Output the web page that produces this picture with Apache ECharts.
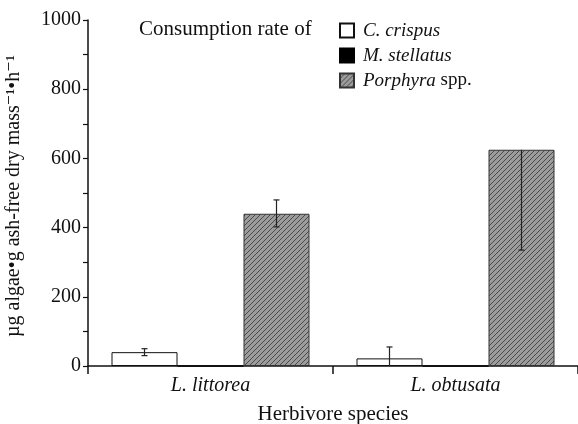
<!DOCTYPE html>
<html>
<head>
<meta charset="utf-8">
<script src="https://cdn.jsdelivr.net/npm/echarts@6/dist/echarts.min.js"></script>
<style>
  html, body { margin: 0; padding: 0; background: #fff; }
  #chart { width: 578px; height: 424px; }
</style>
</head>
<body>
<div id="chart"></div>
<script>
// data
const herbivores = ['L. littorea', 'L. obtusata'];
const crispusRate = [40, 22];
const crispusErrUp = [10, 33];
const crispusErrDown = [10, 33];
const stellatusRate = [0, 0];
const porphyraRate = [440, 625];
const porphyraErrUp = [40, 0];
const porphyraErrDown = [38, 290];
const yTicks = [0, 200, 400, 600, 800, 1000];

const FONT = '"Liberation Serif", "DejaVu Serif", serif';
const BAR_W = 66;

// hatched grey fill for Porphyra
const hatch = (() => {
  const c = document.createElement('canvas');
  c.width = 5; c.height = 5;
  const g = c.getContext('2d');
  g.fillStyle = '#9c9c9c';
  g.fillRect(0, 0, 5, 5);
  g.strokeStyle = '#4a4a4a';
  g.lineWidth = 1;
  g.beginPath();
  g.moveTo(0, 5); g.lineTo(5, 0);
  g.moveTo(-2.5, 2.5); g.lineTo(2.5, -2.5);
  g.moveTo(2.5, 7.5); g.lineTo(7.5, 2.5);
  g.stroke();
  return { image: c, repeat: 'repeat' };
})();

// error bar rows: [category, value, low, high, slot]
const errRows = [];
herbivores.forEach((h, i) => {
  errRows.push([i, crispusRate[i], Math.max(0, crispusRate[i] - crispusErrDown[i]), crispusRate[i] + crispusErrUp[i], -1]);
  errRows.push([i, porphyraRate[i], porphyraRate[i] - porphyraErrDown[i], porphyraRate[i] + porphyraErrUp[i], 1]);
});

const chart = echarts.init(document.getElementById('chart'), null, { renderer: 'canvas' });

chart.setOption({
  animation: false,
  backgroundColor: '#fff',
  grid: { left: 88, right: 0, top: 20, bottom: 58, outerBoundsMode: 'none' },
  legend: {
    orient: 'vertical',
    left: 339,
    top: 21,
    padding: 0,
    itemWidth: 14,
    itemHeight: 14,
    itemGap: 6,
    icon: 'rect',
    textStyle: {
      fontFamily: FONT, fontSize: 19, color: '#111', padding: [0, 0, 0, 4],
      rich: {
        it: { fontFamily: FONT, fontSize: 19, fontStyle: 'italic', color: '#111' },
        rm: { fontFamily: FONT, fontSize: 19, color: '#111' }
      }
    },
    formatter: (name) => name === 'Porphyra spp.' ? '{it|Porphyra} {rm|spp.}' : '{it|' + name + '}',
    data: ['C. crispus', 'M. stellatus', 'Porphyra spp.']
  },
  graphic: [
    {
      type: 'text', left: 139, top: 19,
      style: { text: 'Consumption rate of', font: '21px ' + FONT, fill: '#111' }
    },
    {
      type: 'text', x: 4, y: 337, rotation: Math.PI / 2,
      style: { text: 'µg algae•g ash-free dry mass⁻¹•h⁻¹', font: '20px ' + FONT, fill: '#111', textAlign: 'left', textVerticalAlign: 'top' }
    }
  ],
  xAxis: {
    type: 'category',
    data: herbivores,
    axisLine: { lineStyle: { color: '#111', width: 1.5 } },
    axisTick: { show: true, length: 8, lineStyle: { color: '#111', width: 1.5 } },
    axisLabel: { fontFamily: FONT, fontSize: 20, fontStyle: 'italic', color: '#111', margin: 10 },
    name: 'Herbivore species',
    nameLocation: 'middle',
    nameGap: 38,
    nameTextStyle: { fontFamily: FONT, fontSize: 21, color: '#111' }
  },
  yAxis: {
    type: 'value',
    min: 0, max: 1000, interval: 200,
    axisLine: { show: true, lineStyle: { color: '#111', width: 1.5 } },
    axisTick: { show: true, length: 5, lineStyle: { color: '#111', width: 1.2 } },
    minorTick: { show: true, splitNumber: 2, length: 5, lineStyle: { color: '#111', width: 1.2 } },
    splitLine: { show: false },
    axisLabel: {
      fontFamily: FONT, fontSize: 20, color: '#111', margin: 7,
      formatter: (v) => yTicks.includes(v) ? String(v) : ''
    }
  },
  series: [
    {
      name: 'C. crispus', type: 'bar', data: crispusRate,
      barWidth: BAR_W, barGap: '0%',
      itemStyle: { color: '#fff', borderColor: '#111', borderWidth: 1 }
    },
    {
      name: 'M. stellatus', type: 'bar', data: stellatusRate,
      barWidth: BAR_W, barGap: '0%',
      itemStyle: { color: '#000', borderColor: '#000', borderWidth: 1 }
    },
    {
      name: 'Porphyra spp.', type: 'bar', data: porphyraRate,
      barWidth: BAR_W, barGap: '0%',
      itemStyle: { color: hatch, borderColor: '#333', borderWidth: 1 }
    },
    {
      type: 'custom',
      data: errRows,
      z: 10,
      encode: { x: 0, y: 1 },
      renderItem: (params, api) => {
        const slot = api.value(4);
        const lo = api.coord([api.value(0), api.value(2)]);
        const hi = api.coord([api.value(0), api.value(3)]);
        const x = lo[0] + slot * BAR_W;
        const cap = 3;
        const style = { stroke: '#222', lineWidth: 1.2 };
        const kids = [
          { type: 'line', shape: { x1: x, y1: lo[1], x2: x, y2: hi[1] }, style }
        ];
        if (api.value(3) > api.value(1)) kids.push({ type: 'line', shape: { x1: x - cap, y1: hi[1], x2: x + cap, y2: hi[1] }, style });
        if (api.value(2) > 0) kids.push({ type: 'line', shape: { x1: x - cap, y1: lo[1], x2: x + cap, y2: lo[1] }, style });
        return { type: 'group', children: kids };
      }
    }
  ]
});
</script>
</body>
</html>
